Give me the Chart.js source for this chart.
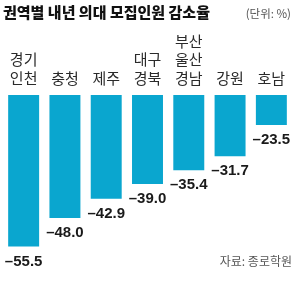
<!DOCTYPE html>
<html>
<head>
<meta charset="utf-8">
<style>
  html, body { margin: 0; padding: 0; background: #fff; }
  #wrap { width: 300px; height: 302px; position: relative; }
</style>
<script src="https://cdn.jsdelivr.net/npm/chart.js@4/dist/chart.umd.min.js"></script>
</head>
<body>
<div id="wrap"><canvas id="chart"></canvas></div>
<script>
  var regions = [['경기', '인천'], ['충청'], ['제주'], ['대구', '경북'], ['부산', '울산', '경남'], ['강원'], ['호남']];
  var rates = [-55.5, -48.0, -42.9, -39.0, -35.4, -31.7, -23.5];
  var titleText = '권역별 내년 의대 모집인원 감소율';
  var unitText = '(단위: %)';
  var sourceText = '자료: 종로학원';

  var KR = '"Noto Sans CJK KR", "Noto Sans", sans-serif';
  var NUM = '"Liberation Sans Narrow", "Liberation Sans", Arial, sans-serif';

  var textPlugin = {
    id: 'texts',
    afterDatasetsDraw: function(chart) {
      var ctx = chart.ctx;
      var xs = chart.scales.x;
      var ys = chart.scales.y;
      ctx.save();

      // title
      ctx.fillStyle = '#111';
      ctx.font = '900 15px ' + KR;
      ctx.textAlign = 'left';
      ctx.textBaseline = 'middle';
      ctx.fillText(titleText, 3, 12);
      ctx.fillStyle = '#555';
      ctx.font = '11.5px ' + KR;
      ctx.textAlign = 'right';
      ctx.fillText(unitText, 291, 14);

      // region names above the bars, last line aligned
      ctx.fillStyle = '#2a2a2a';
      ctx.font = '15px ' + KR;
      ctx.textAlign = 'center';
      regions.forEach(function(lines, i) {
        var x = xs.getPixelForValue(i);
        for (var k = 0; k < lines.length; k++) {
          var y = 78 - (lines.length - 1 - k) * 18.5;
          ctx.fillText(lines[k], x, y);
        }
      });

      // values under the bars
      ctx.fillStyle = '#1a1a1a';
      ctx.font = 'bold 15px ' + NUM;
      ctx.textBaseline = 'middle';
      rates.forEach(function(v, i) {
        var x = xs.getPixelForValue(i);
        var y = ys.getPixelForValue(v) + 15;
        ctx.fillText('\u2013' + Math.abs(v).toFixed(1), x, y);
      });

      // source
      ctx.fillStyle = '#555';
      ctx.font = '12px ' + KR;
      ctx.textAlign = 'right';
      ctx.fillText(sourceText, 292, 261);

      ctx.restore();
    }
  };

  new Chart(document.getElementById('chart'), {
    type: 'bar',
    data: {
      labels: regions,
      datasets: [{
        data: rates,
        backgroundColor: '#0aa6cf',
        borderWidth: 0,
        barPercentage: 0.75,
        categoryPercentage: 1
      }]
    },
    options: {
      responsive: true,
      maintainAspectRatio: false,
      animation: false,
      layout: { padding: { top: 95, bottom: 15.5, left: 3, right: 8 } },
      plugins: {
        legend: { display: false },
        tooltip: { enabled: false }
      },
      scales: {
        x: { display: false },
        y: { display: false, min: -66, max: -15.6 }
      }
    },
    plugins: [textPlugin]
  });
</script>
</body>
</html>
